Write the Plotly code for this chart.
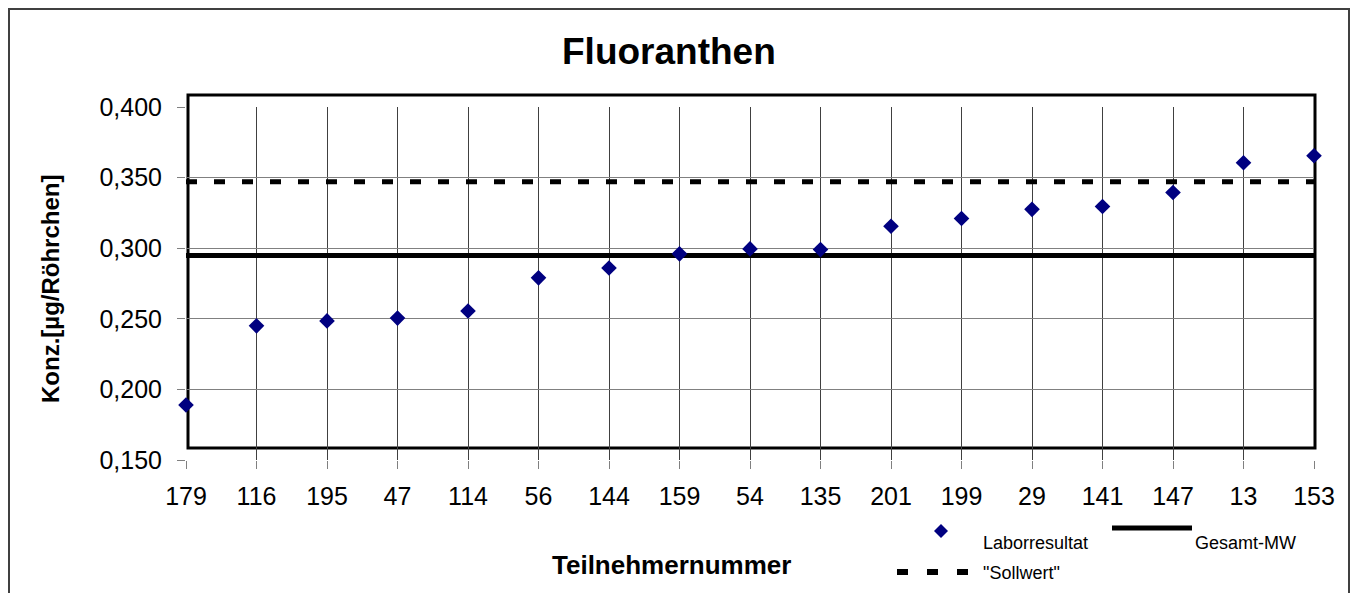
import plotly.graph_objects as go

# ---- data ----
participants = ["179", "116", "195", "47", "114", "56", "144", "159", "54",
                "135", "201", "199", "29", "141", "147", "13", "153"]
lab_results = [0.189, 0.245, 0.2485, 0.2505, 0.2555, 0.279, 0.286, 0.296, 0.2995,
               0.299, 0.3155, 0.321, 0.3275, 0.3295, 0.3395, 0.3605, 0.3655]
overall_mean = 0.2948
target_value = 0.347

y_ticks = [0.15, 0.20, 0.25, 0.30, 0.35, 0.40]

# ---- layout geometry (reference-pixel coordinates) ----
OFF = 8  # page body margin
W, H = 1358 - OFF, 593 - OFF
L, R, T, B = 186, 1314, 107, 460
FONT = "Liberation Sans, Arial, sans-serif"


def px(x):
    return (x - L) / (R - L)


def py(y):
    return (B - y) / (B - T)


fig = go.Figure()

fig.add_trace(go.Scatter(
    x=[participants[0], participants[-1]], y=[target_value, target_value],
    mode="lines", line=dict(color="black", width=5, dash="11px,17px"),
    showlegend=False, hoverinfo="skip", cliponaxis=False))
fig.add_trace(go.Scatter(
    x=[participants[0], participants[-1]], y=[overall_mean, overall_mean],
    mode="lines", line=dict(color="black", width=5),
    showlegend=False, hoverinfo="skip", cliponaxis=False))
fig.add_trace(go.Scatter(
    x=participants, y=lab_results, mode="markers",
    marker=dict(symbol="diamond", size=12, color="#000080",
                line=dict(width=0)),
    showlegend=False, cliponaxis=False))

shapes = []
# outer chart border (clamped to the visible page area)
shapes.append(dict(type="rect", xref="paper", yref="paper",
                   x0=px(OFF + 1), x1=px(1349), y0=py(OFF + 1), y1=py(600),
                   line=dict(color="#404040", width=2), layer="below"))
# offset plot-area frame
shapes.append(dict(type="rect", xref="paper", yref="paper",
                   x0=px(188), x1=px(1315), y0=py(95), y1=py(448),
                   line=dict(color="black", width=3), layer="between"))

# legend symbols
d = 7
cx, cy = 941, 531
shapes.append(dict(type="path", xref="paper", yref="paper",
                   path=f"M {px(cx-d)} {py(cy)} L {px(cx)} {py(cy-d)} L {px(cx+d)} {py(cy)} L {px(cx)} {py(cy+d)} Z",
                   fillcolor="#000080", line=dict(width=0)))
shapes.append(dict(type="line", xref="paper", yref="paper",
                   x0=px(1112), x1=px(1192), y0=py(528), y1=py(528),
                   line=dict(color="black", width=5)))
shapes.append(dict(type="line", xref="paper", yref="paper",
                   x0=px(897), x1=px(969), y0=py(572), y1=py(572),
                   line=dict(color="black", width=6, dash="11px,19px")))

annotations = [
    dict(text="<b>Fluoranthen</b>", xref="paper", yref="paper",
         x=px(669), y=py(51), showarrow=False, xanchor="center", yanchor="middle",
         font=dict(family=FONT, size=37, color="black")),
    dict(text="Laborresultat", xref="paper", yref="paper",
         x=px(981), y=py(543), showarrow=False, xanchor="left", yanchor="middle",
         font=dict(family=FONT, size=18, color="black")),
    dict(text="Gesamt-MW", xref="paper", yref="paper",
         x=px(1193), y=py(543), showarrow=False, xanchor="left", yanchor="middle",
         font=dict(family=FONT, size=18, color="black")),
    dict(text="\"Sollwert\"", xref="paper", yref="paper",
         x=px(981), y=py(573), showarrow=False, xanchor="left", yanchor="middle",
         font=dict(family=FONT, size=18, color="black")),
    dict(text="<b>Teilnehmernummer</b>", xref="paper", yref="paper",
         x=px(671), y=py(565), showarrow=False, xanchor="center", yanchor="middle",
         font=dict(family=FONT, size=26, color="black")),
    dict(text="<b>Konz.[µg/Röhrchen]</b>", xref="paper", yref="paper",
         x=px(50), y=py(289), showarrow=False, xanchor="center", yanchor="middle",
         textangle=-90, font=dict(family=FONT, size=24, color="black")),
]

fig.update_layout(
    width=W, height=H,
    margin=dict(l=L - OFF, r=1358 - R, t=T - OFF, b=593 - B, pad=0),
    paper_bgcolor="white", plot_bgcolor="white",
    separators=",.",
    font=dict(family=FONT, size=25, color="black"),
    shapes=shapes, annotations=annotations,
    showlegend=False,
    xaxis=dict(type="category", range=[0, len(participants) - 1],
               categoryorder="array", categoryarray=participants,
               showgrid=True, gridcolor="#404040", gridwidth=1,
               showline=False, zeroline=False,
               ticks="outside", ticklen=8, tickcolor="#808080", tickwidth=1,
               tickfont=dict(family=FONT, size=25, color="black"),
               ticklabelstandoff=6),
    yaxis=dict(range=[0.15, 0.40], tickvals=y_ticks, tickformat=".3f",
               showgrid=True, gridcolor="#808080", gridwidth=1,
               showline=False, zeroline=False,
               ticks="outside", ticklen=8, tickcolor="#808080", tickwidth=1,
               tickfont=dict(family=FONT, size=25, color="black"),
               ticklabelstandoff=10),
)

fig.write_html("out.html")
